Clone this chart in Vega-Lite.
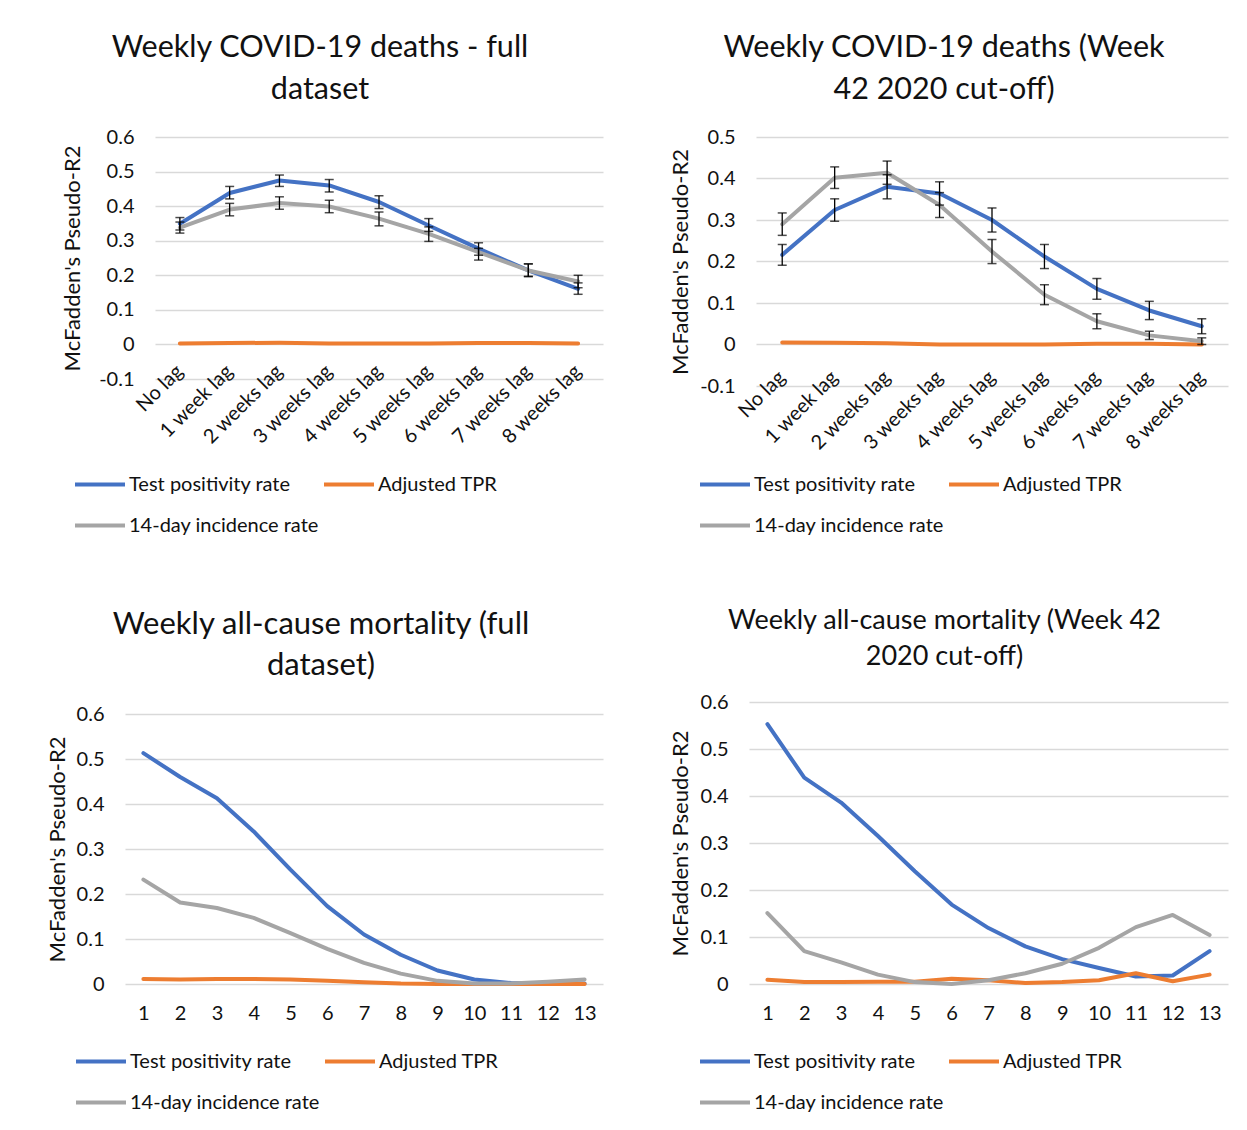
{
  "$schema": "https://vega.github.io/schema/vega-lite/v6.json",
  "padding": {"left": 0, "top": 33, "right": 5, "bottom": 5},
  "background": "white",
  "datasets": {
    "tl": [
      {"lag": "No lag", "series": "Test positivity rate", "r2": 0.349, "lo": 0.331, "hi": 0.367},
      {"lag": "1 week lag", "series": "Test positivity rate", "r2": 0.438, "lo": 0.421, "hi": 0.457},
      {"lag": "2 weeks lag", "series": "Test positivity rate", "r2": 0.474, "lo": 0.457, "hi": 0.49},
      {"lag": "3 weeks lag", "series": "Test positivity rate", "r2": 0.46, "lo": 0.441, "hi": 0.477},
      {"lag": "4 weeks lag", "series": "Test positivity rate", "r2": 0.412, "lo": 0.393, "hi": 0.43},
      {"lag": "5 weeks lag", "series": "Test positivity rate", "r2": 0.344, "lo": 0.327, "hi": 0.364},
      {"lag": "6 weeks lag", "series": "Test positivity rate", "r2": 0.277, "lo": 0.258, "hi": 0.294},
      {"lag": "7 weeks lag", "series": "Test positivity rate", "r2": 0.214, "lo": 0.196, "hi": 0.233},
      {"lag": "8 weeks lag", "series": "Test positivity rate", "r2": 0.161, "lo": 0.145, "hi": 0.178},
      {"lag": "No lag", "series": "Adjusted TPR", "r2": 0.003},
      {"lag": "1 week lag", "series": "Adjusted TPR", "r2": 0.004},
      {"lag": "2 weeks lag", "series": "Adjusted TPR", "r2": 0.005},
      {"lag": "3 weeks lag", "series": "Adjusted TPR", "r2": 0.003},
      {"lag": "4 weeks lag", "series": "Adjusted TPR", "r2": 0.003},
      {"lag": "5 weeks lag", "series": "Adjusted TPR", "r2": 0.003},
      {"lag": "6 weeks lag", "series": "Adjusted TPR", "r2": 0.004},
      {"lag": "7 weeks lag", "series": "Adjusted TPR", "r2": 0.004},
      {"lag": "8 weeks lag", "series": "Adjusted TPR", "r2": 0.003},
      {"lag": "No lag", "series": "14-day incidence rate", "r2": 0.338, "lo": 0.322, "hi": 0.354},
      {"lag": "1 week lag", "series": "14-day incidence rate", "r2": 0.39, "lo": 0.372, "hi": 0.408},
      {"lag": "2 weeks lag", "series": "14-day incidence rate", "r2": 0.409, "lo": 0.391, "hi": 0.427},
      {"lag": "3 weeks lag", "series": "14-day incidence rate", "r2": 0.399, "lo": 0.381, "hi": 0.417},
      {"lag": "4 weeks lag", "series": "14-day incidence rate", "r2": 0.364, "lo": 0.343, "hi": 0.383},
      {"lag": "5 weeks lag", "series": "14-day incidence rate", "r2": 0.32, "lo": 0.298, "hi": 0.34},
      {"lag": "6 weeks lag", "series": "14-day incidence rate", "r2": 0.267, "lo": 0.244, "hi": 0.278},
      {"lag": "7 weeks lag", "series": "14-day incidence rate", "r2": 0.214, "lo": 0.197, "hi": 0.233},
      {"lag": "8 weeks lag", "series": "14-day incidence rate", "r2": 0.182, "lo": 0.164, "hi": 0.2}
    ],
    "tr": [
      {"lag": "No lag", "series": "Test positivity rate", "r2": 0.216, "lo": 0.191, "hi": 0.241},
      {"lag": "1 week lag", "series": "Test positivity rate", "r2": 0.324, "lo": 0.297, "hi": 0.351},
      {"lag": "2 weeks lag", "series": "Test positivity rate", "r2": 0.38, "lo": 0.351, "hi": 0.409},
      {"lag": "3 weeks lag", "series": "Test positivity rate", "r2": 0.364, "lo": 0.336, "hi": 0.392},
      {"lag": "4 weeks lag", "series": "Test positivity rate", "r2": 0.3, "lo": 0.271, "hi": 0.329},
      {"lag": "5 weeks lag", "series": "Test positivity rate", "r2": 0.212, "lo": 0.183, "hi": 0.241},
      {"lag": "6 weeks lag", "series": "Test positivity rate", "r2": 0.134, "lo": 0.109, "hi": 0.159},
      {"lag": "7 weeks lag", "series": "Test positivity rate", "r2": 0.082, "lo": 0.06, "hi": 0.104},
      {"lag": "8 weeks lag", "series": "Test positivity rate", "r2": 0.044, "lo": 0.026, "hi": 0.062},
      {"lag": "No lag", "series": "Adjusted TPR", "r2": 0.005},
      {"lag": "1 week lag", "series": "Adjusted TPR", "r2": 0.004},
      {"lag": "2 weeks lag", "series": "Adjusted TPR", "r2": 0.003},
      {"lag": "3 weeks lag", "series": "Adjusted TPR", "r2": 0.0},
      {"lag": "4 weeks lag", "series": "Adjusted TPR", "r2": 0.0},
      {"lag": "5 weeks lag", "series": "Adjusted TPR", "r2": 0.0},
      {"lag": "6 weeks lag", "series": "Adjusted TPR", "r2": 0.002},
      {"lag": "7 weeks lag", "series": "Adjusted TPR", "r2": 0.002},
      {"lag": "8 weeks lag", "series": "Adjusted TPR", "r2": 0.0},
      {"lag": "No lag", "series": "14-day incidence rate", "r2": 0.29, "lo": 0.263, "hi": 0.317},
      {"lag": "1 week lag", "series": "14-day incidence rate", "r2": 0.402, "lo": 0.376, "hi": 0.428},
      {"lag": "2 weeks lag", "series": "14-day incidence rate", "r2": 0.414, "lo": 0.386, "hi": 0.442},
      {"lag": "3 weeks lag", "series": "14-day incidence rate", "r2": 0.336, "lo": 0.306, "hi": 0.366},
      {"lag": "4 weeks lag", "series": "14-day incidence rate", "r2": 0.224, "lo": 0.195, "hi": 0.253},
      {"lag": "5 weeks lag", "series": "14-day incidence rate", "r2": 0.12, "lo": 0.096, "hi": 0.144},
      {"lag": "6 weeks lag", "series": "14-day incidence rate", "r2": 0.056, "lo": 0.038, "hi": 0.074},
      {"lag": "7 weeks lag", "series": "14-day incidence rate", "r2": 0.022, "lo": 0.012, "hi": 0.032},
      {"lag": "8 weeks lag", "series": "14-day incidence rate", "r2": 0.008, "lo": 0.0, "hi": 0.016}
    ],
    "bl": [
      {"week": 1, "series": "Test positivity rate", "r2": 0.513},
      {"week": 2, "series": "Test positivity rate", "r2": 0.46},
      {"week": 3, "series": "Test positivity rate", "r2": 0.413},
      {"week": 4, "series": "Test positivity rate", "r2": 0.339},
      {"week": 5, "series": "Test positivity rate", "r2": 0.254},
      {"week": 6, "series": "Test positivity rate", "r2": 0.173},
      {"week": 7, "series": "Test positivity rate", "r2": 0.11},
      {"week": 8, "series": "Test positivity rate", "r2": 0.065},
      {"week": 9, "series": "Test positivity rate", "r2": 0.03},
      {"week": 10, "series": "Test positivity rate", "r2": 0.01},
      {"week": 11, "series": "Test positivity rate", "r2": 0.002},
      {"week": 12, "series": "Test positivity rate", "r2": 0.001},
      {"week": 13, "series": "Test positivity rate", "r2": 0.001},
      {"week": 1, "series": "Adjusted TPR", "r2": 0.011},
      {"week": 2, "series": "Adjusted TPR", "r2": 0.01},
      {"week": 3, "series": "Adjusted TPR", "r2": 0.011},
      {"week": 4, "series": "Adjusted TPR", "r2": 0.011},
      {"week": 5, "series": "Adjusted TPR", "r2": 0.01},
      {"week": 6, "series": "Adjusted TPR", "r2": 0.007},
      {"week": 7, "series": "Adjusted TPR", "r2": 0.004},
      {"week": 8, "series": "Adjusted TPR", "r2": 0.001},
      {"week": 9, "series": "Adjusted TPR", "r2": 0.0},
      {"week": 10, "series": "Adjusted TPR", "r2": 0.0},
      {"week": 11, "series": "Adjusted TPR", "r2": 0.0},
      {"week": 12, "series": "Adjusted TPR", "r2": 0.0},
      {"week": 13, "series": "Adjusted TPR", "r2": 0.0},
      {"week": 1, "series": "14-day incidence rate", "r2": 0.232},
      {"week": 2, "series": "14-day incidence rate", "r2": 0.181},
      {"week": 3, "series": "14-day incidence rate", "r2": 0.169},
      {"week": 4, "series": "14-day incidence rate", "r2": 0.147},
      {"week": 5, "series": "14-day incidence rate", "r2": 0.113},
      {"week": 6, "series": "14-day incidence rate", "r2": 0.078},
      {"week": 7, "series": "14-day incidence rate", "r2": 0.047},
      {"week": 8, "series": "14-day incidence rate", "r2": 0.023},
      {"week": 9, "series": "14-day incidence rate", "r2": 0.007},
      {"week": 10, "series": "14-day incidence rate", "r2": 0.001},
      {"week": 11, "series": "14-day incidence rate", "r2": 0.001},
      {"week": 12, "series": "14-day incidence rate", "r2": 0.005},
      {"week": 13, "series": "14-day incidence rate", "r2": 0.01}
    ],
    "br": [
      {"week": 1, "series": "Test positivity rate", "r2": 0.553},
      {"week": 2, "series": "Test positivity rate", "r2": 0.439},
      {"week": 3, "series": "Test positivity rate", "r2": 0.386},
      {"week": 4, "series": "Test positivity rate", "r2": 0.315},
      {"week": 5, "series": "Test positivity rate", "r2": 0.24},
      {"week": 6, "series": "Test positivity rate", "r2": 0.169},
      {"week": 7, "series": "Test positivity rate", "r2": 0.119},
      {"week": 8, "series": "Test positivity rate", "r2": 0.08},
      {"week": 9, "series": "Test positivity rate", "r2": 0.053},
      {"week": 10, "series": "Test positivity rate", "r2": 0.034},
      {"week": 11, "series": "Test positivity rate", "r2": 0.016},
      {"week": 12, "series": "Test positivity rate", "r2": 0.018},
      {"week": 13, "series": "Test positivity rate", "r2": 0.07},
      {"week": 1, "series": "Adjusted TPR", "r2": 0.009},
      {"week": 2, "series": "Adjusted TPR", "r2": 0.004},
      {"week": 3, "series": "Adjusted TPR", "r2": 0.004},
      {"week": 4, "series": "Adjusted TPR", "r2": 0.005},
      {"week": 5, "series": "Adjusted TPR", "r2": 0.005},
      {"week": 6, "series": "Adjusted TPR", "r2": 0.011},
      {"week": 7, "series": "Adjusted TPR", "r2": 0.008},
      {"week": 8, "series": "Adjusted TPR", "r2": 0.002},
      {"week": 9, "series": "Adjusted TPR", "r2": 0.004},
      {"week": 10, "series": "Adjusted TPR", "r2": 0.008},
      {"week": 11, "series": "Adjusted TPR", "r2": 0.023},
      {"week": 12, "series": "Adjusted TPR", "r2": 0.006},
      {"week": 13, "series": "Adjusted TPR", "r2": 0.02},
      {"week": 1, "series": "14-day incidence rate", "r2": 0.151},
      {"week": 2, "series": "14-day incidence rate", "r2": 0.07},
      {"week": 3, "series": "14-day incidence rate", "r2": 0.046},
      {"week": 4, "series": "14-day incidence rate", "r2": 0.02},
      {"week": 5, "series": "14-day incidence rate", "r2": 0.004},
      {"week": 6, "series": "14-day incidence rate", "r2": 0.0},
      {"week": 7, "series": "14-day incidence rate", "r2": 0.008},
      {"week": 8, "series": "14-day incidence rate", "r2": 0.023},
      {"week": 9, "series": "14-day incidence rate", "r2": 0.043},
      {"week": 10, "series": "14-day incidence rate", "r2": 0.077},
      {"week": 11, "series": "14-day incidence rate", "r2": 0.121},
      {"week": 12, "series": "14-day incidence rate", "r2": 0.147},
      {"week": 13, "series": "14-day incidence rate", "r2": 0.104}
    ],
    "empty": []
  },
  "spacing": 64,
  "resolve": {"scale": {"color": "independent"}},
  "hconcat": [
    {
      "columns": 2,
      "align": "none",
      "spacing": {"row": 40, "column": 45},
      "resolve": {"scale": {"color": "independent"}},
      "concat": [
        {"width": 1, "height": 1, "data": {"name": "empty"}, "mark": "point"},
        {
          "width": 448, "height": 242,
          "title": {"text": ["Weekly COVID-19 deaths - full", "dataset"], "fontSize": 30.5, "lineHeight": 42, "dx": -59, "offset": 21.5},
          "data": {"name": "tl"},
          "layer": [
            {
              "mark": {"type": "line", "strokeWidth": 4, "strokeCap": "round", "strokeJoin": "round"},
              "encoding": {
                "x": {"field": "lag", "type": "nominal", "sort": ["No lag", "1 week lag", "2 weeks lag", "3 weeks lag", "4 weeks lag", "5 weeks lag", "6 weeks lag", "7 weeks lag", "8 weeks lag"],
                      "axis": {"title": null, "labelAngle": -45, "labelAlign": "right", "labelBaseline": "middle", "labelPadding": -11}},
                "y": {"field": "r2", "type": "quantitative", "scale": {"domain": [-0.1, 0.6], "nice": false, "zero": false},
                      "axis": {"title": "McFadden's  Pseudo-R2", "values": [-0.1, 0, 0.1, 0.2, 0.3, 0.4, 0.5, 0.6], "titlePadding": 14}},
                "color": {"field": "series", "type": "nominal",
                          "scale": {"domain": ["Test positivity rate", "Adjusted TPR", "14-day incidence rate"], "range": ["#4472C4", "#ED7D31", "#A5A5A5"]},
                          "legend": {"legendX": -109, "legendY": 293.5, "padding": 32}}
              }
            },
            {
              "mark": {"type": "rule", "color": "#000", "strokeWidth": 1.3},
              "encoding": {
                "x": {"field": "lag", "type": "nominal", "sort": ["No lag", "1 week lag", "2 weeks lag", "3 weeks lag", "4 weeks lag", "5 weeks lag", "6 weeks lag", "7 weeks lag", "8 weeks lag"]},
                "y": {"field": "lo", "type": "quantitative"},
                "y2": {"field": "hi"}
              }
            },
            {
              "mark": {"type": "tick", "color": "#000", "size": 9, "thickness": 1.5, "orient": "horizontal"},
              "encoding": {
                "x": {"field": "lag", "type": "nominal", "sort": ["No lag", "1 week lag", "2 weeks lag", "3 weeks lag", "4 weeks lag", "5 weeks lag", "6 weeks lag", "7 weeks lag", "8 weeks lag"]},
                "y": {"field": "lo", "type": "quantitative"}
              }
            },
            {
              "mark": {"type": "tick", "color": "#000", "size": 9, "thickness": 1.5, "orient": "horizontal"},
              "encoding": {
                "x": {"field": "lag", "type": "nominal", "sort": ["No lag", "1 week lag", "2 weeks lag", "3 weeks lag", "4 weeks lag", "5 weeks lag", "6 weeks lag", "7 weeks lag", "8 weeks lag"]},
                "y": {"field": "hi", "type": "quantitative"}
              }
            }
          ]
        },
        {"width": 1, "height": 1, "data": {"name": "empty"}, "mark": "point"},
        {
          "width": 478, "height": 270,
          "title": {"text": ["Weekly all-cause mortality (full", "dataset)"], "fontSize": 31, "lineHeight": 41, "dx": -43, "offset": 22.5},
          "data": {"name": "bl"},
          "mark": {"type": "line", "strokeWidth": 4, "strokeCap": "round", "strokeJoin": "round"},
          "encoding": {
            "x": {"field": "week", "type": "ordinal", "axis": {"title": null, "labelAngle": 0, "labelPadding": 19}},
            "y": {"field": "r2", "type": "quantitative", "scale": {"domain": [0, 0.6], "nice": false},
                  "axis": {"title": "McFadden's Pseudo-R2", "values": [0, 0.1, 0.2, 0.3, 0.4, 0.5, 0.6], "titlePadding": 7}},
            "color": {"field": "series", "type": "nominal",
                      "scale": {"domain": ["Test positivity rate", "Adjusted TPR", "14-day incidence rate"], "range": ["#4472C4", "#ED7D31", "#A5A5A5"]},
                      "legend": {"legendX": -46, "legendY": 325.5}}
          }
        }
      ]
    },
    {
      "columns": 2,
      "align": "none",
      "spacing": {"row": 71, "column": 1},
      "resolve": {"scale": {"color": "independent"}},
      "concat": [
        {"width": 1, "height": 1, "data": {"name": "empty"}, "mark": "point"},
        {
          "width": 472, "height": 249,
          "title": {"text": ["Weekly COVID-19 deaths (Week", "42 2020 cut-off)"], "fontSize": 30.5, "lineHeight": 42, "dx": -48, "offset": 21.5},
          "data": {"name": "tr"},
          "layer": [
            {
              "mark": {"type": "line", "strokeWidth": 4, "strokeCap": "round", "strokeJoin": "round"},
              "encoding": {
                "x": {"field": "lag", "type": "nominal", "sort": ["No lag", "1 week lag", "2 weeks lag", "3 weeks lag", "4 weeks lag", "5 weeks lag", "6 weeks lag", "7 weeks lag", "8 weeks lag"],
                      "axis": {"title": null, "labelAngle": -45, "labelAlign": "right", "labelBaseline": "middle", "labelPadding": -12}},
                "y": {"field": "r2", "type": "quantitative", "scale": {"domain": [-0.1, 0.5], "nice": false, "zero": false},
                      "axis": {"title": "McFadden's  Pseudo-R2", "values": [-0.1, 0, 0.1, 0.2, 0.3, 0.4, 0.5], "titlePadding": 7}},
                "color": {"field": "series", "type": "nominal",
                          "scale": {"domain": ["Test positivity rate", "Adjusted TPR", "14-day incidence rate"], "range": ["#4472C4", "#ED7D31", "#A5A5A5"]},
                          "legend": {"legendX": -53, "legendY": 325.5}}
              }
            },
            {
              "mark": {"type": "rule", "color": "#000", "strokeWidth": 1.3},
              "encoding": {
                "x": {"field": "lag", "type": "nominal", "sort": ["No lag", "1 week lag", "2 weeks lag", "3 weeks lag", "4 weeks lag", "5 weeks lag", "6 weeks lag", "7 weeks lag", "8 weeks lag"]},
                "y": {"field": "lo", "type": "quantitative"},
                "y2": {"field": "hi"}
              }
            },
            {
              "mark": {"type": "tick", "color": "#000", "size": 9, "thickness": 1.5, "orient": "horizontal"},
              "encoding": {
                "x": {"field": "lag", "type": "nominal", "sort": ["No lag", "1 week lag", "2 weeks lag", "3 weeks lag", "4 weeks lag", "5 weeks lag", "6 weeks lag", "7 weeks lag", "8 weeks lag"]},
                "y": {"field": "lo", "type": "quantitative"}
              }
            },
            {
              "mark": {"type": "tick", "color": "#000", "size": 9, "thickness": 1.5, "orient": "horizontal"},
              "encoding": {
                "x": {"field": "lag", "type": "nominal", "sort": ["No lag", "1 week lag", "2 weeks lag", "3 weeks lag", "4 weeks lag", "5 weeks lag", "6 weeks lag", "7 weeks lag", "8 weeks lag"]},
                "y": {"field": "hi", "type": "quantitative"}
              }
            }
          ]
        },
        {"width": 1, "height": 1, "data": {"name": "empty"}, "mark": "point"},
        {
          "width": 479, "height": 282,
          "title": {"text": ["Weekly all-cause mortality (Week 42", "2020 cut-off)"], "fontSize": 27, "lineHeight": 36, "dx": -44, "offset": 21},
          "data": {"name": "br"},
          "mark": {"type": "line", "strokeWidth": 4, "strokeCap": "round", "strokeJoin": "round"},
          "encoding": {
            "x": {"field": "week", "type": "ordinal", "axis": {"title": null, "labelAngle": 0, "labelPadding": 19}},
            "y": {"field": "r2", "type": "quantitative", "scale": {"domain": [0, 0.6], "nice": false},
                  "axis": {"title": "McFadden's Pseudo-R2", "values": [0, 0.1, 0.2, 0.3, 0.4, 0.5, 0.6], "titlePadding": 8}},
            "color": {"field": "series", "type": "nominal",
                      "scale": {"domain": ["Test positivity rate", "Adjusted TPR", "14-day incidence rate"], "range": ["#4472C4", "#ED7D31", "#A5A5A5"]},
                      "legend": {"legendX": -46, "legendY": 337.5}}
          }
        }
      ]
    }
  ],
  "config": {
    "font": "Lato",
    "view": {"stroke": null},
    "title": {"color": "#111", "fontWeight": "normal", "anchor": "middle", "frame": "group"},
    "axis": {"labelColor": "#111", "titleColor": "#111", "domain": false, "ticks": false, "labelFontSize": 20, "titleFontSize": 22, "titleFontWeight": "normal", "labelOverlap": false},
    "axisY": {"gridColor": "#d9d9d9", "gridWidth": 1.3, "labelPadding": 21, "tickCount": 20, "labelExpr": "toString(round(datum.value*10)/10)"},
    "axisX": {"grid": false},
    "legend": {"orient": "none", "direction": "horizontal", "columns": 2, "title": null, "symbolType": "M-1.25,0H1.25", "symbolSize": 1600, "symbolStrokeWidth": 4, "labelFontSize": 20, "labelColor": "#111", "labelOffset": 7, "columnPadding": -3, "rowPadding": 9, "labelLimit": 400}
  }
}
